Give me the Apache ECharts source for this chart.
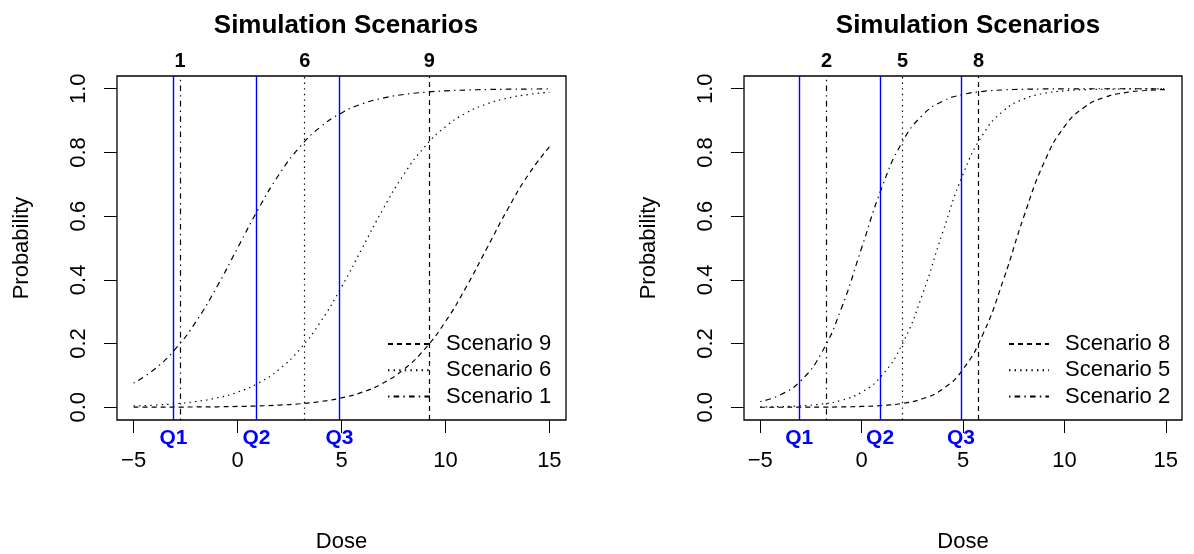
<!DOCTYPE html>
<html>
<head>
<meta charset="utf-8">
<script src="https://cdn.jsdelivr.net/npm/echarts@6/dist/echarts.min.js"></script>
<style>
  html, body { margin: 0; padding: 0; background: #fff; }
  #main { width: 1194px; height: 554px; }
</style>
</head>
<body>
<div id="main"></div>
<script>
// dose grid the curves were read at
var doses = [-5, -4, -3, -2, -1, 0, 1, 2, 3, 4, 5, 6, 7, 8, 9, 10, 11, 12, 13, 14, 15];

// left panel: scenarios 9, 6, 1
var scen9 = [0.0002, 0.0003, 0.0006, 0.0009, 0.0015, 0.0025, 0.0041, 0.0067, 0.0110, 0.0180, 0.0293, 0.0474, 0.0759, 0.1192, 0.1824, 0.2689, 0.3775, 0.5000, 0.6225, 0.7311, 0.8176];
var scen6 = [0.0041, 0.0067, 0.0110, 0.0180, 0.0293, 0.0474, 0.0759, 0.1192, 0.1824, 0.2689, 0.3775, 0.5000, 0.6225, 0.7311, 0.8176, 0.8808, 0.9241, 0.9526, 0.9707, 0.9820, 0.9890];
var scen1 = [0.0759, 0.1192, 0.1824, 0.2689, 0.3775, 0.5000, 0.6225, 0.7311, 0.8176, 0.8808, 0.9241, 0.9526, 0.9707, 0.9820, 0.9890, 0.9933, 0.9959, 0.9975, 0.9985, 0.9991, 0.9994];

// right panel: scenarios 8, 5, 2
var scen8 = [0.0000, 0.0001, 0.0002, 0.0005, 0.0011, 0.0025, 0.0055, 0.0121, 0.0266, 0.0573, 0.1192, 0.2315, 0.4013, 0.5987, 0.7685, 0.8808, 0.9427, 0.9734, 0.9879, 0.9945, 0.9975];
var scen5 = [0.0009, 0.0020, 0.0045, 0.0100, 0.0219, 0.0474, 0.0998, 0.1978, 0.3543, 0.5498, 0.7311, 0.8581, 0.9309, 0.9677, 0.9852, 0.9933, 0.9970, 0.9986, 0.9994, 0.9997, 0.9999];
var scen2 = [0.0180, 0.0392, 0.0832, 0.1680, 0.3100, 0.5000, 0.6900, 0.8320, 0.9168, 0.9608, 0.9820, 0.9918, 0.9963, 0.9983, 0.9993, 0.9997, 0.9999, 0.9999, 1.0000, 1.0000, 1.0000];

// doses where each scenario hits 0.2 (vertical lines + top labels)
var leftNames = ['9', '6', '1'];
var leftCuts = [9.23, 3.23, -2.77];
var rightNames = ['8', '5', '2'];
var rightCuts = [5.77, 2.02, -1.73];

// quartiles of dose (blue lines)
var qNames = ['Q1', 'Q2', 'Q3'];
var qDose = [-3.08, 0.91, 4.9];

var xTicks = [-5, 0, 5, 10, 15];
var yTicks = [0, 0.2, 0.4, 0.6, 0.8, 1.0];

var FONT = '"Liberation Sans", Arial, Helvetica, sans-serif';
var DASHED = [5, 4];
var DOTTED = [1.4, 4.2];
var DOTDASH = [1.4, 4.2, 5.6, 4.2];

function pairs(vals) {
    var out = [];
    for (var i = 0; i < doses.length; i++) out.push([doses[i], vals[i]]);
    return out;
}

function curve(name, vals, dash, idx, cut, lab, withQ) {
    var ml = [{
        xAxis: cut,
        lineStyle: { color: '#000', width: 1.2, type: dash },
        label: {
            show: true, position: 'end', formatter: lab, distance: 5,
            color: '#000', fontWeight: 'bold', fontSize: 20, fontFamily: FONT
        }
    }];
    if (withQ) {
        for (var q = 0; q < qDose.length; q++) {
            ml.push({
                xAxis: qDose[q],
                lineStyle: { color: '#0000ff', width: 1.4, type: 'solid' },
                label: {
                    show: true, position: 'start', formatter: qNames[q], distance: 8,
                    color: '#0000ff', fontWeight: 'bold', fontSize: 21, fontFamily: FONT
                }
            });
        }
    }
    return {
        type: 'line',
        name: name,
        xAxisIndex: idx,
        yAxisIndex: idx,
        data: pairs(vals),
        symbol: 'none',
        showSymbol: false,
        smooth: true,
        itemStyle: { color: '#000' },
        lineStyle: { color: '#000', width: 1.2, type: dash },
        markLine: {
            symbol: 'none',
            silent: true,
            animation: false,
            data: ml
        }
    };
}

function xAxisOf(idx) {
    return {
        type: 'value', gridIndex: idx, min: -5.8, max: 15.8,
        splitLine: { show: false },
        axisLine: { show: false, onZero: false },
        axisTick: { show: true, customValues: xTicks, length: 13, lineStyle: { color: '#000', width: 1 } },
        axisLabel: { customValues: xTicks, margin: 30, fontSize: 22, color: '#000', fontFamily: FONT,
            formatter: function (v) { return v < 0 ? '\u2212' + Math.abs(v) : String(v); } },
        name: 'Dose', nameLocation: 'middle', nameGap: 111,
        nameTextStyle: { fontSize: 22, color: '#000', fontFamily: FONT }
    };
}

function yAxisOf(idx) {
    return {
        type: 'value', gridIndex: idx, min: -0.04, max: 1.04,
        splitLine: { show: false },
        axisLine: { show: false, onZero: false },
        axisTick: { show: true, customValues: yTicks, length: 13, lineStyle: { color: '#000', width: 1 } },
        axisLabel: { customValues: yTicks, margin: 27, rotate: 90, fontSize: 22, color: '#000', fontFamily: FONT,
            formatter: function (v) { return v.toFixed(1); } },
        name: 'Probability', nameLocation: 'middle', nameGap: 84, nameRotate: 90,
        nameTextStyle: { fontSize: 22, color: '#000', fontFamily: FONT }
    };
}

function legendOf(left, names, pad, w) {
    return {
        orient: 'vertical', left: left, top: 326,
        data: names,
        itemWidth: w, itemHeight: 14, itemGap: 0.3,
        itemStyle: { opacity: 0 },
        textStyle: { fontSize: 22, color: '#000', fontFamily: FONT, lineHeight: 26, padding: [0, 0, 0, pad] },
        selectedMode: false
    };
}

var chart = echarts.init(document.getElementById('main'), null, { renderer: 'canvas' });

var option = {
    animation: false,
    backgroundColor: '#fff',
    title: [
        { text: 'Simulation Scenarios', left: 341, top: 8, textAlign: 'center',
          textStyle: { fontSize: 26, fontWeight: 'bold', color: '#000', fontFamily: FONT } },
        { text: 'Simulation Scenarios', left: 963, top: 8, textAlign: 'center',
          textStyle: { fontSize: 26, fontWeight: 'bold', color: '#000', fontFamily: FONT } }
    ],
    legend: [
        legendOf(382, ['Scenario 9', 'Scenario 6', 'Scenario 1'], 9, 44),
        legendOf(1003, ['Scenario 8', 'Scenario 5', 'Scenario 2'], 11, 40)
    ],
    grid: [
        { left: 117, top: 76, width: 449, height: 344, outerBoundsMode: 'none', containLabel: false,
          show: true, borderColor: '#000', borderWidth: 1.3, backgroundColor: 'transparent' },
        { left: 744, top: 76, width: 438, height: 344, outerBoundsMode: 'none', containLabel: false,
          show: true, borderColor: '#000', borderWidth: 1.3, backgroundColor: 'transparent' }
    ],
    xAxis: [xAxisOf(0), xAxisOf(1)],
    yAxis: [yAxisOf(0), yAxisOf(1)],
    series: [
        curve('Scenario 9', scen9, DASHED, 0, leftCuts[0], leftNames[0], true),
        curve('Scenario 6', scen6, DOTTED, 0, leftCuts[1], leftNames[1], false),
        curve('Scenario 1', scen1, DOTDASH, 0, leftCuts[2], leftNames[2], false),
        curve('Scenario 8', scen8, DASHED, 1, rightCuts[0], rightNames[0], true),
        curve('Scenario 5', scen5, DOTTED, 1, rightCuts[1], rightNames[1], false),
        curve('Scenario 2', scen2, DOTDASH, 1, rightCuts[2], rightNames[2], false)
    ]
};
chart.setOption(option);
window.onresize = chart.resize;
</script>
</body>
</html>
